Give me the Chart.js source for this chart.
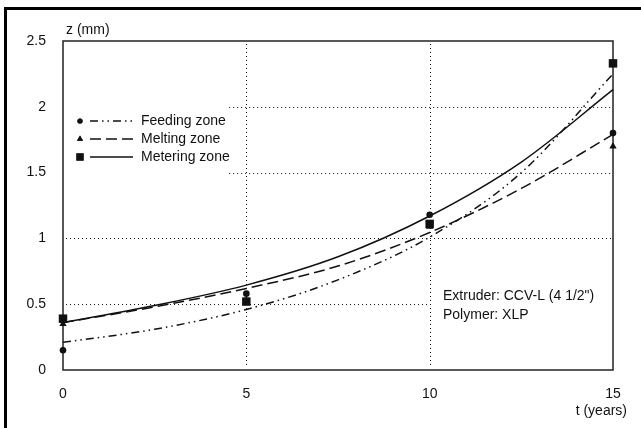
<!DOCTYPE html>
<html lang="en">
<head>
  <meta charset="UTF-8">
  <title>Extruder wear</title>
  <script src="https://cdn.jsdelivr.net/npm/chart.js"></script>
  <style>
    body {
      margin: 0;
      background: #fff;
    }
    .wrap {
      position: relative;
      width: 641px;
      height: 428px;
      overflow: hidden;
    }
    .wrap canvas {
      position: absolute;
      left: 0;
      top: 0;
    }
    .frame {
      position: absolute;
      left: 4px;
      top: 7px;
      width: 700px;
      height: 500px;
      border-left: 3px solid #000;
      border-top: 3px solid #000;
      pointer-events: none;
    }
  </style>
</head>
<body>
  <div class="wrap">
    <canvas id="chart" width="641" height="428"></canvas>
    <div class="frame"></div>
  </div>

  <script>
    // measured points
    const years = [0, 5, 10, 15];
    const feedingMeasured = [0.15, 0.58, 1.18, 1.80];
    const meltingMeasured = [0.35, 0.53, 1.09, 1.70];
    const meteringMeasured = [0.39, 0.52, 1.11, 2.33];

    // fitted curves
    const fitYears = [0, 2.5, 5, 7.5, 10, 12.5, 15];
    const feedingFit = [0.21, 0.31, 0.46, 0.685, 1.01, 1.5, 2.25];
    const meltingFit = [0.36, 0.48, 0.62, 0.79, 1.045, 1.38, 1.79];
    const meteringFit = [0.36, 0.49, 0.645, 0.86, 1.17, 1.58, 2.13];

    const xTicks = [0, 5, 10, 15];
    const yTicks = [0, 0.5, 1, 1.5, 2, 2.5];
    const zoneNames = ['Feeding zone', 'Melting zone', 'Metering zone'];
    const noteLines = ['Extruder: CCV-L (4 1/2")', 'Polymer: XLP'];

    const ink = '#111';
    const font = '14px "Liberation Sans", Arial, sans-serif';
    const dashes = [[8, 4, 1.5, 4, 1.5, 4], [11, 5], []];
    const markers = [
      { style: 'circle', radius: 3.3 },
      { style: 'triangle', radius: 4.2 },
      { style: 'rect', radius: 6 }
    ];

    const toXY = (xs, ys) => xs.map((x, i) => ({ x: x, y: ys[i] }));
    const fits = [feedingFit, meltingFit, meteringFit];
    const measured = [feedingMeasured, meltingMeasured, meteringMeasured];

    const datasets = [];
    fits.forEach((f, i) => {
      datasets.push({
        label: zoneNames[i] + ' fit',
        data: toXY(fitYears, f),
        borderColor: ink,
        borderWidth: 1.5,
        borderDash: dashes[i],
        pointRadius: 0,
        cubicInterpolationMode: 'monotone',
        fill: false,
        clip: false
      });
    });
    measured.forEach((m, i) => {
      datasets.push({
        label: zoneNames[i],
        data: toXY(years, m),
        showLine: false,
        pointStyle: markers[i].style,
        pointRadius: markers[i].radius,
        backgroundColor: ink,
        borderColor: ink,
        borderWidth: 0,
        clip: false
      });
    });

    // dotted grid segments [value, from, to] in data units
    const hGrid = [[0.5, 0, 10], [1, 0, 15], [1.5, 4.45, 15], [2, 4.45, 15]];
    const vGrid = [5, 10];

    const decor = {
      id: 'decor',
      beforeDatasetsDraw(chart) {
        const { ctx, chartArea: a, scales: { x, y } } = chart;
        ctx.save();
        ctx.strokeStyle = ink;
        ctx.lineWidth = 1;
        ctx.setLineDash([1, 3]);
        hGrid.forEach(([v, f, t]) => {
          const py = Math.round(y.getPixelForValue(v)) + 0.5;
          ctx.beginPath();
          ctx.moveTo(x.getPixelForValue(f) + 3, py);
          ctx.lineTo(x.getPixelForValue(t) - 2, py);
          ctx.stroke();
        });
        vGrid.forEach(v => {
          const px = Math.round(x.getPixelForValue(v)) + 0.5;
          ctx.beginPath();
          ctx.moveTo(px, a.top + 3);
          ctx.lineTo(px, a.bottom - 2);
          ctx.stroke();
        });
        ctx.setLineDash([]);
        ctx.lineWidth = 1.5;
        ctx.strokeStyle = '#222';
        ctx.strokeRect(a.left, a.top, a.right - a.left, a.bottom - a.top);
        ctx.restore();
      },
      afterDraw(chart) {
        const { ctx, chartArea: a } = chart;
        ctx.save();
        ctx.font = font;
        ctx.fillStyle = ink;
        ctx.textBaseline = 'middle';
        ctx.textAlign = 'left';
        ctx.fillText('z (mm)', a.left + 3, 30);
        ctx.textAlign = 'right';
        ctx.fillText('t (years)', 627, 411);
        ctx.textAlign = 'left';
        noteLines.forEach((s, i) => ctx.fillText(s, 443, 296 + i * 19));

        // legend
        zoneNames.forEach((name, i) => {
          const ly = 121 + i * 18;
          Chart.helpers.drawPoint(ctx, {
            pointStyle: markers[i].style,
            radius: i === 0 ? 2.6 : markers[i].radius * 0.85,
            borderWidth: 0
          }, 80, ly);
          ctx.fill();
          ctx.beginPath();
          ctx.strokeStyle = ink;
          ctx.lineWidth = 1.5;
          ctx.setLineDash(dashes[i]);
          ctx.moveTo(90, ly);
          ctx.lineTo(133, ly);
          ctx.stroke();
          ctx.setLineDash([]);
          ctx.fillText(name, 141, ly);
        });
        ctx.restore();
      }
    };

    new Chart(document.getElementById('chart'), {
      type: 'line',
      data: { datasets: datasets },
      options: {
        responsive: false,
        animation: false,
        layout: { padding: { left: 0, top: 41, right: 28, bottom: 0 } },
        plugins: {
          legend: { display: false },
          tooltip: { enabled: false }
        },
        scales: {
          x: {
            type: 'linear',
            min: 0,
            max: 15,
            afterFit: s => { s.height = 58; },
            afterBuildTicks: s => { s.ticks = xTicks.map(v => ({ value: v })); },
            grid: { display: false, drawTicks: false },
            border: { display: false },
            ticks: { padding: 16, color: ink, font: { family: '"Liberation Sans", Arial', size: 14 }, maxRotation: 0 }
          },
          y: {
            type: 'linear',
            min: 0,
            max: 2.5,
            afterFit: s => { s.width = 63; },
            afterBuildTicks: s => { s.ticks = yTicks.map(v => ({ value: v })); },
            grid: { display: false, drawTicks: false },
            border: { display: false },
            ticks: { padding: 17, color: ink, font: { family: '"Liberation Sans", Arial', size: 14 }, callback: v => String(v) }
          }
        }
      },
      plugins: [decor]
    });
  </script>
</body>
</html>
